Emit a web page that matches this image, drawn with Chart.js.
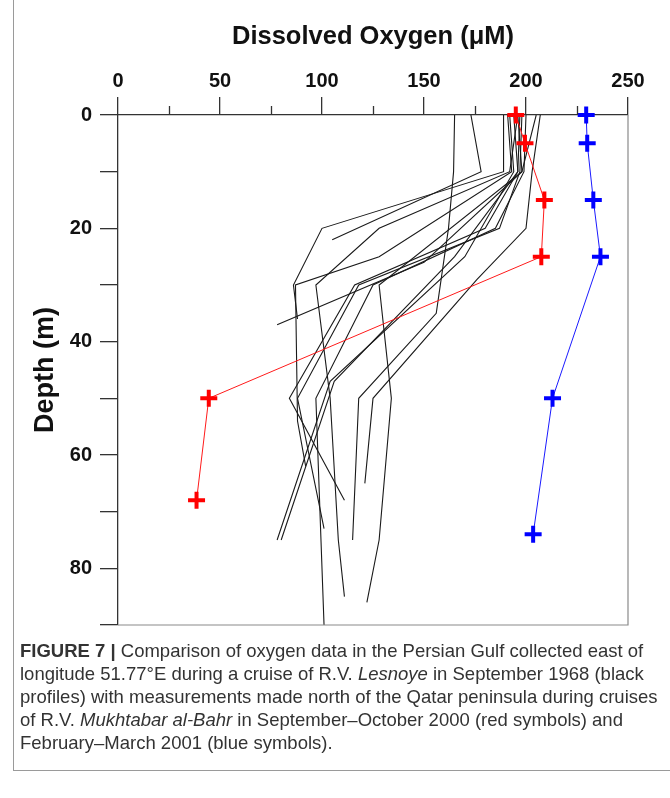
<!DOCTYPE html>
<html>
<head>
<meta charset="utf-8">
<script src="https://cdn.jsdelivr.net/npm/chart.js@4.4.1/dist/chart.umd.min.js"></script>
<style>
  html, body { margin: 0; padding: 0; background: #fff; }
  body { width: 670px; height: 798px; position: relative; overflow: hidden; font-family: "Liberation Sans", Arial, sans-serif; }
  #frame { position: absolute; left: 13px; top: -2px; width: 680px; height: 772px; border-left: 1px solid #9a9a9a; border-bottom: 1px solid #9a9a9a; }
  #wrap { position: absolute; left: 0; top: 0; width: 670px; height: 640px; }
  #caption { position: absolute; left: 20px; top: 639px; width: 645px; font-size: 18.5px; line-height: 23px; color: #333; white-space: nowrap; }
</style>
</head>
<body>
<div id="frame"></div>
<div id="wrap"><canvas id="c" width="670" height="640"></canvas></div>
<div id="caption"><b>FIGURE 7 |</b> Comparison of oxygen data in the Persian Gulf collected east of<br>longitude 51.77°E during a cruise of R.V. <i>Lesnoye</i> in September 1968 (black<br>profiles) with measurements made north of the Qatar peninsula during cruises<br>of R.V. <i>Mukhtabar al-Bahr</i> in September–October 2000 (red symbols) and<br>February–March 2001 (blue symbols).</div>
<script>
// ---- Data ----
// Sept–Oct 2000 (red symbols)
const redDepth  = [0, 5, 15, 25, 50, 68];
const redOxygen = [195, 199.5, 209, 207.5, 44.5, 38.5];
// Feb–Mar 2001 (blue symbols)
const blueDepth  = [0, 5, 15, 25, 50, 74];
const blueOxygen = [229.5, 230, 233, 236.5, 213, 203.5];

// R.V. Lesnoye Sept 1968 profiles: [depth (m), oxygen (uM)]
const lesnoye01 = [[0,165],[10,164.5],[20,162],[35,156],[50,118],[75,115]];
const lesnoye02 = [[0,173],[10,178],[22,105]];
const lesnoye03 = [[0,207],[10,203],[20,200],[29,176],[50,125],[65,121]];
const lesnoye04 = [[0,205],[10,198],[30,128],[50,134],[75,128],[86,122]];
const lesnoye05 = [[0,189],[10,189],[20,100],[30,86],[36,88]];
const lesnoye06 = [[0,196],[10,192],[20,128],[30,97],[50,104],[75,108],[85,111]];
const lesnoye07 = [[0,194],[10,196],[20,180],[30,116],[50,84],[68,111]];
const lesnoye08 = [[0,198],[10,197],[20,187],[30,118],[50,88],[73,101]];
const lesnoye09 = [[0,200],[10,199],[20,185],[30,125],[50,97],[90,101]];
const lesnoye10 = [[0,196],[10,198],[26,150],[37,78]];
const lesnoye11 = [[0,192],[10,194],[25,170],[47,104],[75,78]];
const lesnoye12 = [[0,197],[10,196],[25,165],[47,106],[75,80]];
const lesnoye13 = [[0,191],[10,193],[25,128],[30,87],[54,88],[62,92]];
const lesnoyeProfiles = [lesnoye01, lesnoye02, lesnoye03, lesnoye04, lesnoye05, lesnoye06, lesnoye07,
                         lesnoye08, lesnoye09, lesnoye10, lesnoye11, lesnoye12, lesnoye13];

// Axis ticks
const xMajorTicks = [0, 50, 100, 150, 200, 250];
const xMinorTicks = [25, 75, 125, 175, 225];
const yLabelTicks = [0, 20, 40, 60, 80];

// ---- Build ----
const toPts = (depths, oxy) => depths.map((d, i) => ({ x: oxy[i], y: d }));

const datasets = [
  {
    label: 'Sept–Oct 2000', data: toPts(redDepth, redOxygen), showLine: true,
    borderColor: '#ff1a1a', borderWidth: 1, pointStyle: 'cross', pointRadius: 8.5,
    pointBorderColor: '#ff0000', pointBorderWidth: 4, pointHoverRadius: 8.5, clip: false
  },
  {
    label: 'Feb–Mar 2001', data: toPts(blueDepth, blueOxygen), showLine: true,
    borderColor: '#1a1aff', borderWidth: 1, pointStyle: 'cross', pointRadius: 8.5,
    pointBorderColor: '#0000ff', pointBorderWidth: 4, pointHoverRadius: 8.5, clip: false
  }
];
lesnoyeProfiles.forEach((p, i) => {
  datasets.push({
    label: 'Lesnoye ' + (i + 1),
    data: p.map(([d, o]) => ({ x: o, y: d })),
    showLine: true, borderColor: '#1a1a1a', borderWidth: 1.1, pointRadius: 0, pointHoverRadius: 0
  });
});

const axisColor = '#333';
const frameBox = {
  id: 'frameBox',
  afterDraw(chart) {
    const { ctx, chartArea: a, scales } = chart;
    ctx.save();
    // minor ticks on x axis
    ctx.strokeStyle = axisColor; ctx.lineWidth = 1.3;
    xMinorTicks.forEach(v => {
      const px = Math.round(scales.x.getPixelForValue(v)) + 0.5;
      ctx.beginPath(); ctx.moveTo(px, a.top); ctx.lineTo(px, a.top - 9); ctx.stroke();
    });
    // right and bottom box lines
    ctx.strokeStyle = '#8a8a8a'; ctx.lineWidth = 1.2;
    ctx.beginPath();
    ctx.moveTo(a.left, a.bottom); ctx.lineTo(a.right, a.bottom); ctx.lineTo(a.right, a.top);
    ctx.stroke();
    ctx.restore();
  }
};

const zeroPad = s => { s.paddingTop = 0; s.paddingBottom = 0; s.paddingLeft = 0; s.paddingRight = 0; };

new Chart(document.getElementById('c'), {
  type: 'scatter',
  data: { datasets },
  options: {
    responsive: false, animation: false, events: [],
    layout: { padding: { left: 0, top: 0, right: 42, bottom: 15 } },
    plugins: { legend: { display: false }, tooltip: { enabled: false } },
    scales: {
      x: {
        type: 'linear', position: 'top', min: 0, max: 250,
        afterBuildTicks: s => { s.ticks = xMajorTicks.map(v => ({ value: v })); },
        afterFit: s => { s.height = 115; zeroPad(s); },
        grid: { drawOnChartArea: false, drawTicks: true, tickLength: 18, color: axisColor, lineWidth: 1.3 },
        border: { display: true, color: axisColor, width: 1.3 },
        ticks: { color: '#111', padding: 4, font: { family: 'Liberation Sans', size: 20, weight: 'bold' }, maxRotation: 0 },
        title: { display: true, text: 'Dissolved Oxygen (μM)', color: '#111',
                 font: { family: 'Liberation Sans', size: 25.5, weight: 'bold' }, padding: { top: 22, bottom: 0 } }
      },
      y: {
        type: 'linear', position: 'left', min: 0, max: 90, reverse: true,
        ticks: { stepSize: 10, autoSkip: false, color: '#111', padding: 8,
                 font: { family: 'Liberation Sans', size: 20, weight: 'bold' },
                 callback: v => yLabelTicks.includes(v) ? String(v) : '' },
        afterFit: s => { s.width = 118; zeroPad(s); },
        grid: { drawOnChartArea: false, drawTicks: true, tickLength: 18, color: axisColor, lineWidth: 1.3 },
        border: { display: true, color: axisColor, width: 1.3 },
        title: { display: true, text: 'Depth (m)', color: '#111',
                 font: { family: 'Liberation Sans', size: 27, weight: 'bold' }, padding: { top: 29, bottom: 0 } }
      }
    }
  },
  plugins: [frameBox]
});
</script>
</body>
</html>
